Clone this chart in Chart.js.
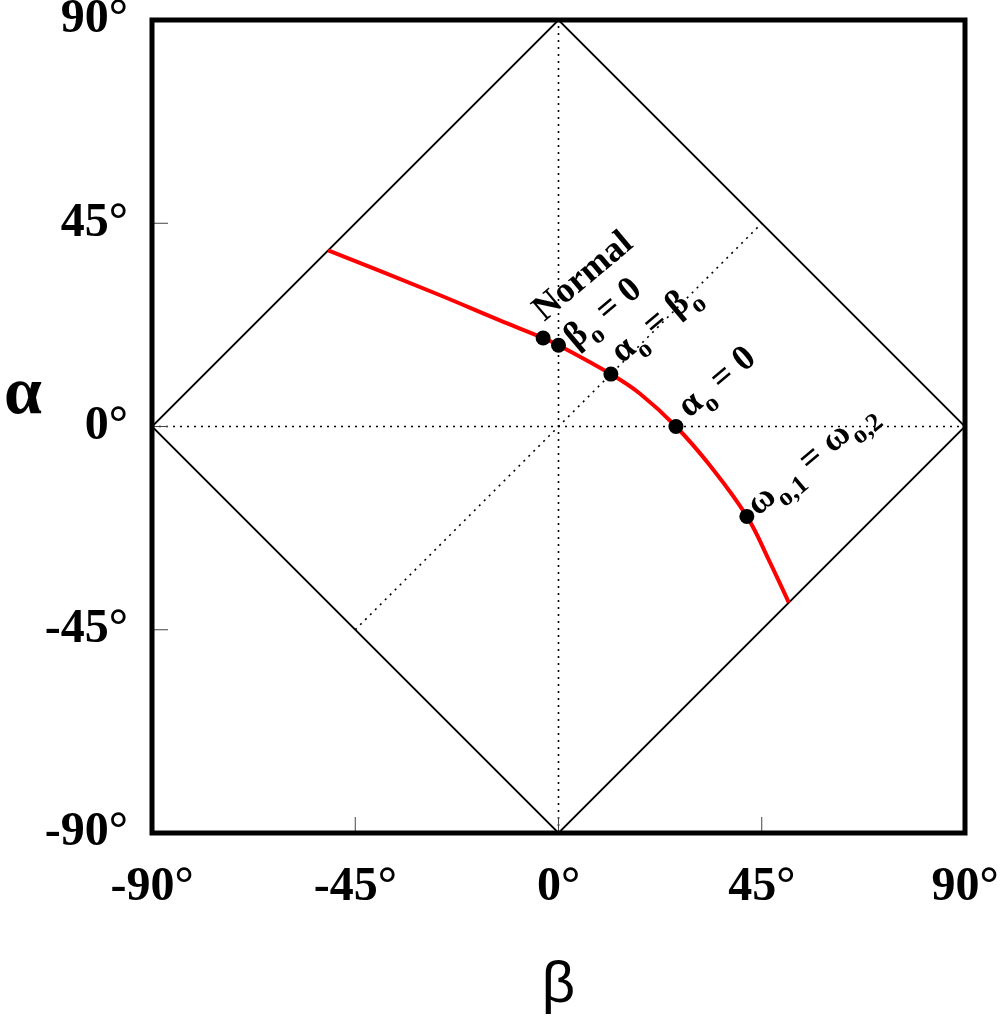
<!DOCTYPE html>
<html>
<head>
<meta charset="utf-8">
<script src="https://cdn.jsdelivr.net/npm/chart.js@4.4.0/dist/chart.umd.min.js"></script>
<style>
  html, body { margin: 0; padding: 0; background: #fff; }
  #wrap { width: 1000px; height: 1018px; }
</style>
</head>
<body>
<div id="wrap"><canvas id="chart"></canvas></div>
<script>
// tick values (degrees) on both axes
const tickValues = [-90, -45, 0, 45, 90];

// red curve, beta (x) and alpha (y) in degrees
const curveBeta  = [-51, -27.3, -13, -3.4, 0, 11.6, 18, 26, 33.5, 41.7, 46.5, 51];
const curveAlpha = [ 39,  29.5, 23.5, 19.6, 18, 11.6, 7.3, 0, -8.6, -19.9, -29.4, -39];

// black marked points on the curve
const markBeta  = [-3.4, 0, 11.6, 26, 41.7];
const markAlpha = [19.6, 18, 11.6, 0, -19.9];
const markNames = ['Normal', 'β_{o} = 0', 'α_{o} = β_{o}', 'α_{o} = 0', 'ω_{o,1} = ω_{o,2}'];

// square rotated 45 degrees
const diamondBeta  = [-90, 0, 90, 0, -90];
const diamondAlpha = [0, 90, 0, -90, 0];

// dotted guide lines
const vertBeta = [0, 0],     vertAlpha = [-90, 90];
const horizBeta = [-90, 90], horizAlpha = [0, 0];
const diagBeta = [-45, 45],  diagAlpha = [-45, 45];

const pts = (xs, ys) => xs.map((v, i) => ({ x: v, y: ys[i] }));

// label placement relative to its point (pixels), kept apart from the data
const labelOffsets = [[1, -16], [17, 4], [11, -10], [13, -8], [11, 0]];
const labelAngle = -40 * Math.PI / 180;

function drawRich(ctx, str, size) {
  // text with _{...} subscripts
  const parts = str.split(/_\{([^}]*)\}/);
  let x = 0;
  parts.forEach((p, i) => {
    if (!p) return;
    if (i % 2 === 1) {
      ctx.font = 'bold ' + Math.round(size * 0.72) + 'px "Liberation Serif"';
      ctx.fillText(p, x, size * 0.3);
    } else {
      ctx.font = 'bold ' + size + 'px "Liberation Serif"';
      ctx.fillText(p, x, 0);
    }
    x += ctx.measureText(p).width;
  });
}

const decor = {
  id: 'decor',
  afterDraw(chart) {
    const { ctx, chartArea: a, scales: { x, y } } = chart;
    ctx.save();
    // inward tick marks
    ctx.strokeStyle = '#444';
    ctx.lineWidth = 1;
    [-45, 0, 45].forEach(v => {
      const py = y.getPixelForValue(v), px = x.getPixelForValue(v);
      ctx.beginPath();
      ctx.moveTo(a.left, py); ctx.lineTo(a.left + 16, py);
      ctx.moveTo(px, a.bottom); ctx.lineTo(px, a.bottom - 16);
      ctx.stroke();
    });
    // frame
    ctx.strokeStyle = '#000';
    ctx.lineWidth = 5;
    ctx.strokeRect(a.left, a.top, a.right - a.left, a.bottom - a.top);

    // axis titles
    ctx.fillStyle = '#000';
    ctx.textBaseline = 'alphabetic';
    ctx.textAlign = 'left';
    ctx.font = 'bold 68px "Liberation Serif"';
    ctx.fillText('α', 4, 413);
    ctx.textAlign = 'center';
    ctx.font = '58px "Liberation Sans"';
    ctx.fillText('β', x.getPixelForValue(0), 1002);

    // rotated point labels
    ctx.textAlign = 'left';
    markNames.forEach((name, i) => {
      const px = x.getPixelForValue(markBeta[i]) + labelOffsets[i][0];
      const py = y.getPixelForValue(markAlpha[i]) + labelOffsets[i][1];
      ctx.save();
      ctx.translate(px, py);
      ctx.rotate(labelAngle);
      drawRich(ctx, name, 36);
      ctx.restore();
    });
    ctx.restore();
  }
};

const tickFont = { family: 'Liberation Serif', weight: 'bold', size: 48 };

new Chart(document.getElementById('chart'), {
  type: 'scatter',
  data: {
    datasets: [
      { data: pts(markBeta, markAlpha), pointRadius: 7.5, pointHoverRadius: 7.5,
        backgroundColor: '#000', borderWidth: 0, showLine: false },
      { data: pts(curveBeta, curveAlpha), showLine: true, borderColor: '#ff0000',
        borderWidth: 4, pointRadius: 0, tension: 0.4 },
      { data: pts(diamondBeta, diamondAlpha), showLine: true, borderColor: '#000',
        borderWidth: 1.8, pointRadius: 0 },
      { data: pts(vertBeta, vertAlpha), showLine: true, borderColor: '#000',
        borderWidth: 1.6, borderDash: [2, 5], pointRadius: 0 },
      { data: pts(horizBeta, horizAlpha), showLine: true, borderColor: '#000',
        borderWidth: 1.6, borderDash: [2, 5], pointRadius: 0 },
      { data: pts(diagBeta, diagAlpha), showLine: true, borderColor: '#000',
        borderWidth: 1.6, borderDash: [2, 5], pointRadius: 0 }
    ]
  },
  options: {
    responsive: true,
    maintainAspectRatio: false,
    animation: false,
    events: [],
    layout: { padding: { top: 20, right: 35, bottom: 0, left: 0 } },
    plugins: { legend: { display: false }, tooltip: { enabled: false } },
    scales: {
      x: {
        type: 'linear', min: -90, max: 90,
        grid: { display: false, drawTicks: false },
        border: { display: false },
        ticks: { color: '#000', font: tickFont, padding: 26, maxRotation: 0,
                 autoSkip: false, callback: v => v + '°' },
        afterBuildTicks: s => { s.ticks = tickValues.map(v => ({ value: v })); },
        afterFit: s => { s.height = 185; s.paddingLeft = 0; s.paddingRight = 0; }
      },
      y: {
        type: 'linear', min: -90, max: 90,
        grid: { display: false, drawTicks: false },
        border: { display: false },
        ticks: { color: '#000', font: tickFont, padding: 24,
                 autoSkip: false, callback: v => v + '°' },
        afterBuildTicks: s => { s.ticks = tickValues.map(v => ({ value: v })); },
        afterFit: s => { s.width = 152; s.paddingTop = 0; s.paddingBottom = 0; }
      }
    }
  },
  plugins: [decor]
});
</script>
</body>
</html>
